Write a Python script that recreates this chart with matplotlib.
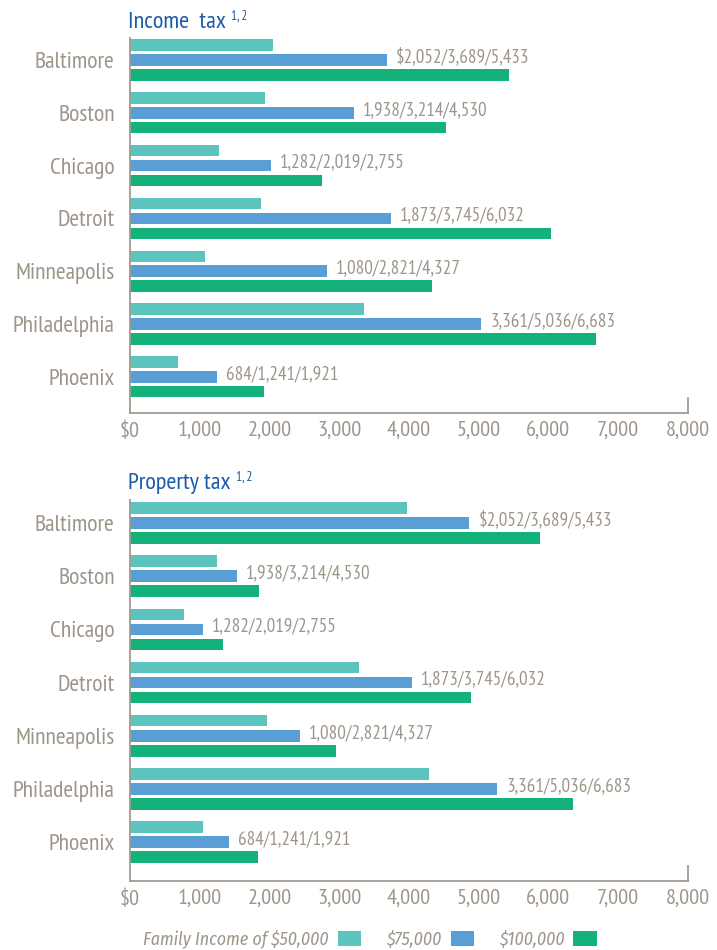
import matplotlib
matplotlib.use('Agg')
import matplotlib.pyplot as plt
import numpy as np

# data
cities = ['Baltimore', 'Boston', 'Chicago', 'Detroit', 'Minneapolis', 'Philadelphia', 'Phoenix']

income_50 = [2052, 1938, 1282, 1873, 1080, 3361, 684]
income_75 = [3689, 3214, 2019, 3745, 2821, 5036, 1241]
income_100 = [5433, 4530, 2755, 6032, 4327, 6683, 1921]

property_50 = [3970, 1245, 770, 3285, 1965, 4290, 1045]
property_75 = [4870, 1535, 1045, 4045, 2440, 5270, 1420]
property_100 = [5875, 1850, 1330, 4895, 2955, 6360, 1835]

# the original prints the income tax figures beside both panels
value_labels = ['$2,052/3,689/5,433', '1,938/3,214/4,530', '1,282/2,019/2,755',
                '1,873/3,745/6,032', '1,080/2,821/4,327', '3,361/5,036/6,683',
                '684/1,241/1,921']

xticks = [0, 1000, 2000, 3000, 4000, 5000, 6000, 7000, 8000]
xtick_labels = ['$0', '1,000', '2,000', '3,000', '4,000', '5,000', '6,000', '7,000', '8,000']
legend_labels = ['Family Income of $50,000', '$75,000', '$100,000']

TEAL = '#5BC4BC'
BLUE = '#5A9ED6'
GREEN = '#14B17A'
GRAY = '#9E958A'
SPINE = '#A39A8F'
TITLE = '#1A5BA8'

plt.rcParams['font.family'] = ['PT Sans Narrow', 'DejaVu Sans']
LEGEND_FONT = ['Fira Sans Condensed', 'DejaVu Sans']

H = 0.217   # bar thickness
OFF = 0.283  # distance between bars in a group

fig = plt.figure(figsize=(7.17, 9.5), dpi=100)


def draw_panel(ax, v50, v75, v100, ylim):
    y = np.arange(len(cities))
    b1 = ax.barh(y - OFF, v50, height=H, color=TEAL)
    b2 = ax.barh(y, v75, height=H, color=BLUE)
    b3 = ax.barh(y + OFF, v100, height=H, color=GREEN)
    for yi, val, txt in zip(y, v75, value_labels):
        ax.annotate(txt, xy=(val, yi), xytext=(9, 3), textcoords='offset pixels',
                    ha='left', va='center', fontsize=13.7, color=GRAY)
    ax.set_xlim(0, 8000)
    ax.set_ylim(*ylim)
    ax.set_yticks(y)
    ax.set_yticklabels(cities, fontsize=17, color=GRAY)
    ax.set_xticks(xticks)
    ax.set_xticklabels(xtick_labels, fontsize=16, color=GRAY)
    ax.tick_params(axis='y', length=0, pad=11)
    ax.tick_params(axis='x', length=0, pad=6)
    for s in ['top', 'right']:
        ax.spines[s].set_visible(False)
    for s in ['left', 'bottom']:
        ax.spines[s].set_color(SPINE)
        ax.spines[s].set_linewidth(1.3)
    # little end mark at 8,000
    ax.axvline(8000, ymin=0, ymax=0.038, color=SPINE, lw=1.3, clip_on=False)
    return b1, b2, b3


ax1 = fig.add_axes([130 / 717, 1 - 412.7 / 950, 557.7 / 717, 374.7 / 950])
draw_panel(ax1, income_50, income_75, income_100, (6.68, -0.417))

ax2 = fig.add_axes([130 / 717, 1 - 880.7 / 950, 557.7 / 717, 380.7 / 950])
bars = draw_panel(ax2, property_50, property_75, property_100, (6.724, -0.432))

# panel titles with superscript notes
fig.canvas.draw()
renderer = fig.canvas.get_renderer()
for title, base in [('Income  tax', 28), ('Property tax', 489)]:
    t = fig.text(128 / 717, 1 - base / 950, title, fontsize=17.5, color=TITLE,
                 ha='left', va='baseline')
    bb = t.get_window_extent(renderer=renderer)
    fig.text((bb.x1 + 5) / 717, 1 - (base - 8) / 950, '1, 2', fontsize=9.5,
             color=TITLE, ha='left', va='baseline')

fig.legend(bars, legend_labels, loc='center', bbox_to_anchor=(370 / 717, 1 - 939 / 950),
           ncol=3, markerfirst=False, frameon=False, labelcolor=GRAY,
           prop={'family': LEGEND_FONT, 'style': 'italic', 'size': 12.9},
           handlelength=1.3, handleheight=0.9, handletextpad=0.5,
           columnspacing=1.4, borderpad=0, borderaxespad=0)

fig.savefig('out.png', dpi=100)
